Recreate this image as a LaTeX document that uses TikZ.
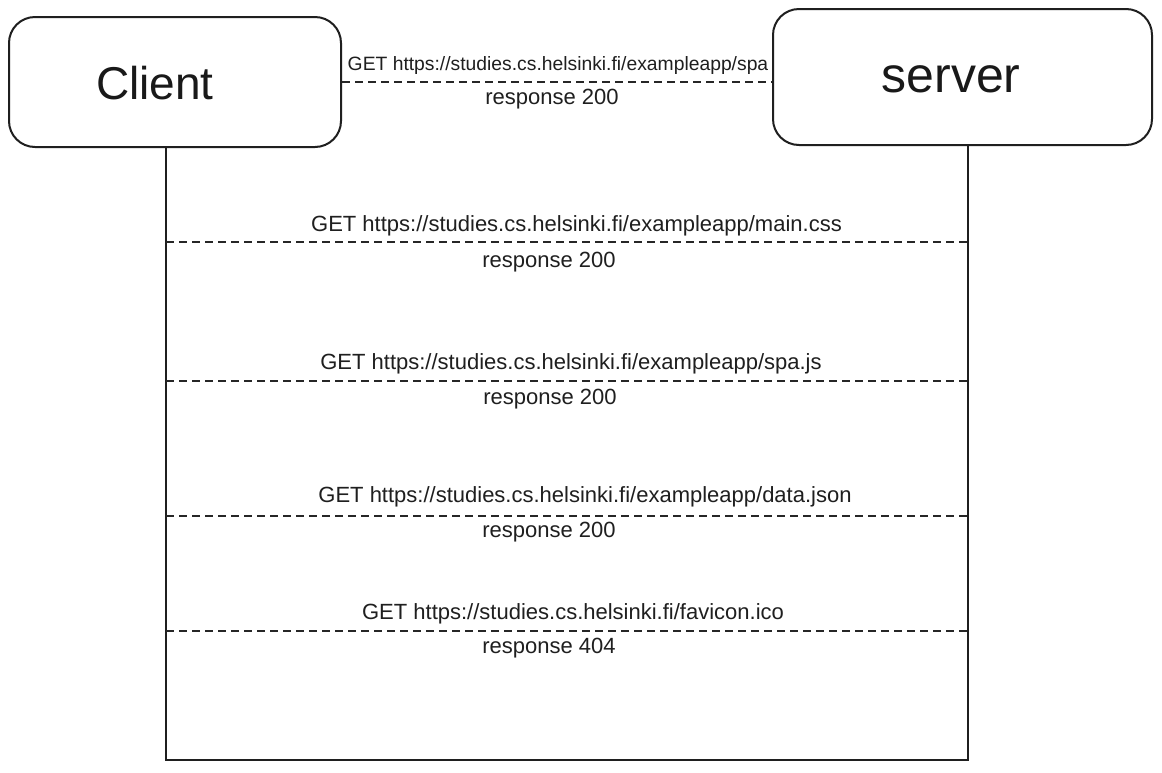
\documentclass[tikz,border=0pt]{standalone}
\usepackage{fontspec}
\setmainfont{Liberation Sans}
\begin{document}
\begin{tikzpicture}[x=1pt,y=-1pt,
  actor/.style={draw=black!88, line width=2pt, rounded corners=26pt, inner sep=0pt},
  actorlbl/.style={inner sep=0pt, text=black!90},
  life/.style={draw=black!88, line width=2pt},
  msg/.style={draw=black!85, line width=1.6pt, dash pattern=on 8pt off 5pt},
  lbl/.style={inner sep=0pt, font=\fontsize{22}{25}\selectfont, text=black!88},
  toplbl/.style={inner sep=0pt, font=\fontsize{19.3}{22}\selectfont, text=black!88}]
\useasboundingbox (0,0) rectangle (1162,772);
\fill[white] (0,0) rectangle (1162,772);
\node[actor, minimum width=332pt, minimum height=130pt] (client) at (175,82) {};
\node[actor, minimum width=379pt, minimum height=136pt] (server) at (962.5,77) {};
\node[actorlbl, font=\fontsize{46}{50}\selectfont] (clientlbl) at (155,83) {Client};
\node[actorlbl, font=\fontsize{50}{54}\selectfont] (serverlbl) at (951,79) {server};
\coordinate (cb) at (166,760);
\coordinate (sb) at (968,760);
\draw[life] (client.south -| cb) -- (cb) -- (sb) -- (server.south -| sb);
% top message
\draw[msg] (client.east) -- (client.east -| server.west);
\node[toplbl] (t1) at (558,66) {GET https://studies.cs.helsinki.fi/exampleapp/spa};
\node[lbl] (t1r) at (552,99) {response 200};
% messages
\coordinate (c2) at (166,242); \coordinate (s2) at (968,242);
\coordinate (c3) at (166,381); \coordinate (s3) at (968,381);
\coordinate (c4) at (166,516); \coordinate (s4) at (968,516);
\coordinate (c5) at (166,631); \coordinate (s5) at (968,631);
\draw[msg] (c2) -- (s2);
\draw[msg] (c3) -- (s3);
\draw[msg] (c4) -- (s4);
\draw[msg] (c5) -- (s5);
\node[lbl] (t2) at (576.5,226) {GET https://studies.cs.helsinki.fi/exampleapp/main.css};
\node[lbl] (t2r) at (549,262) {response 200};
\node[lbl] (t3) at (571,364) {GET https://studies.cs.helsinki.fi/exampleapp/spa.js};
\node[lbl] (t3r) at (550,399) {response 200};
\node[lbl] (t4) at (585,497) {GET https://studies.cs.helsinki.fi/exampleapp/data.json};
\node[lbl] (t4r) at (549,532) {response 200};
\node[lbl] (t5) at (573,614) {GET https://studies.cs.helsinki.fi/favicon.ico};
\node[lbl] (t5r) at (549,648) {response 404};
\end{tikzpicture}
\end{document}
